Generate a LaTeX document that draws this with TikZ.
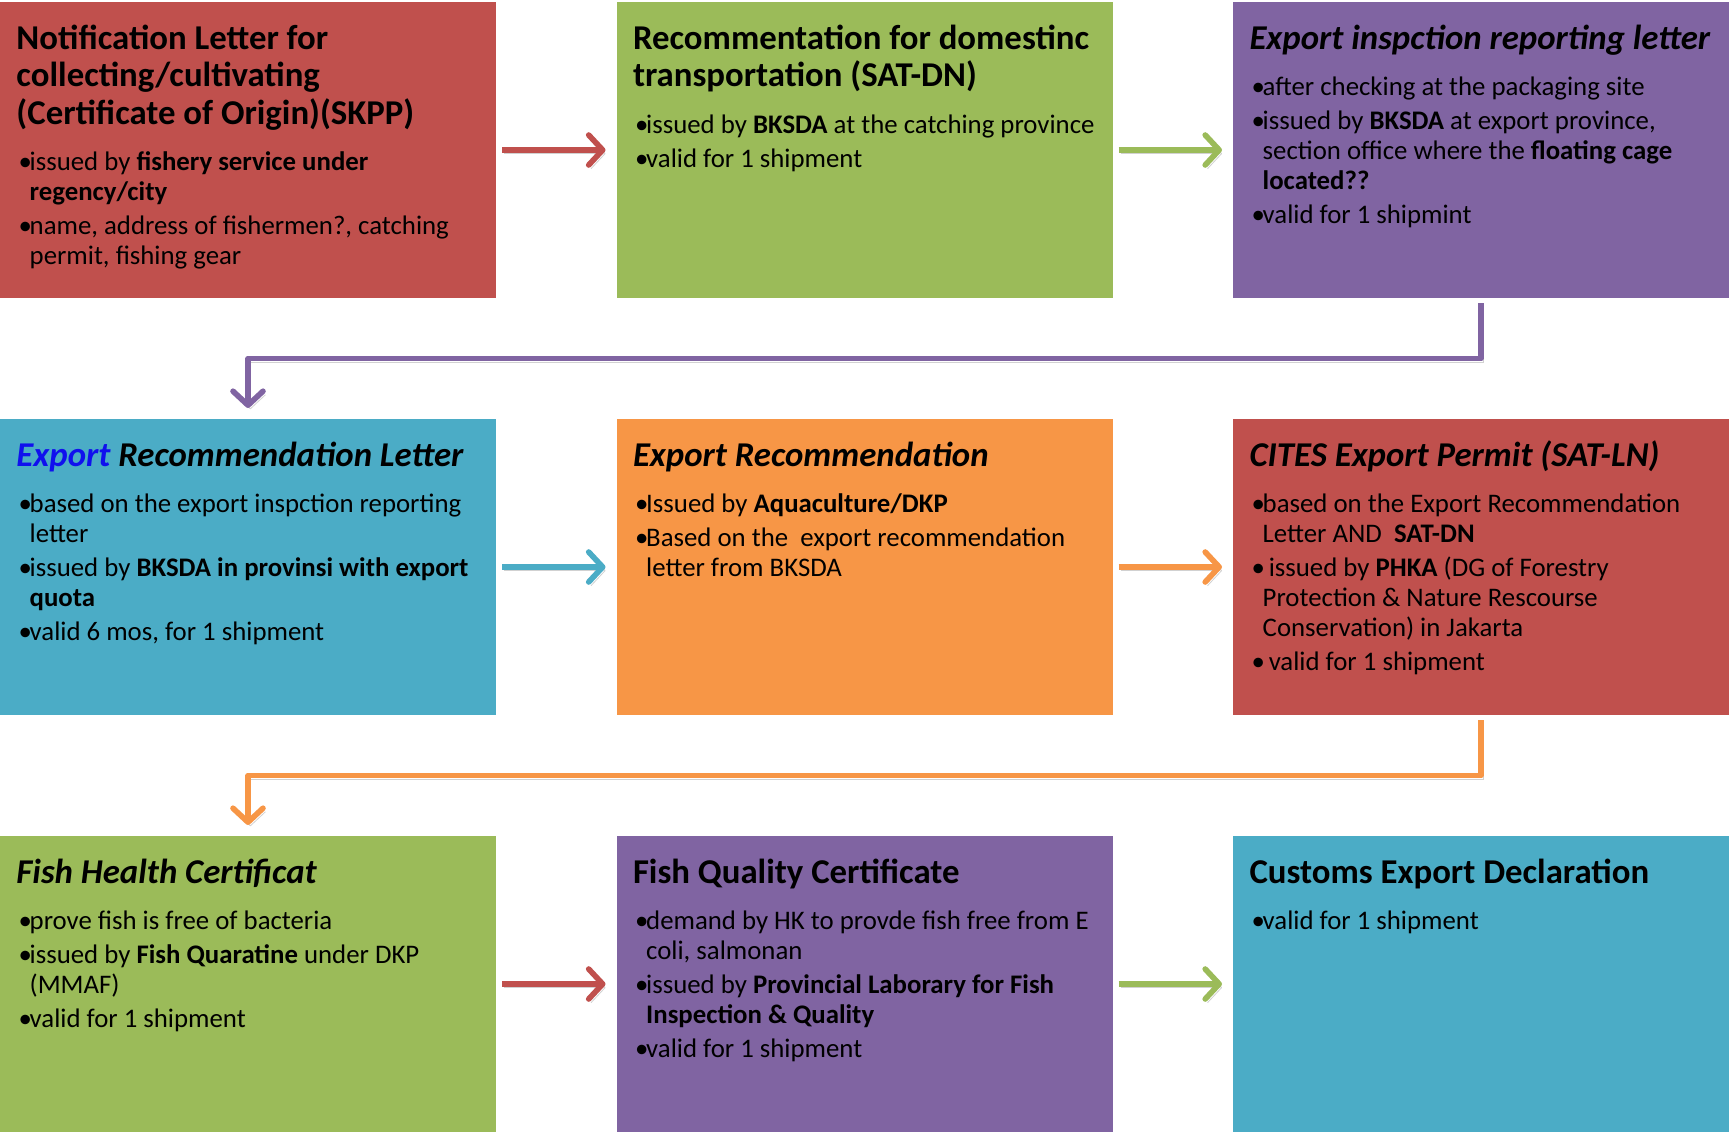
\documentclass[tikz,border=0pt]{standalone}
\usepackage{fontspec}
\setmainfont{Carlito}
\usepackage{xcolor}
\usepackage{tikz}
\usetikzlibrary{arrows.meta,positioning,calc}
\definecolor{cardred}{HTML}{C0504D}
\definecolor{cardgreen}{HTML}{9BBB59}
\definecolor{cardpurple}{HTML}{8064A2}
\definecolor{cardaqua}{HTML}{4BACC6}
\definecolor{cardorange}{HTML}{F79646}
\definecolor{xblue}{HTML}{1010EE}
% one card: bold title, then the bullet list, top aligned
\newcommand{\cardtext}[2]{%
  \parbox[c][148pt][t]{248pt}{%
    \leftskip=8.25pt\rightskip=-20pt plus 1fil\parfillskip=0pt plus 1fil
    \parindent=0pt
    \fontsize{17.4}{18.75}\selectfont\bfseries
    \rule{0pt}{23.6pt}#1\par
    \vspace{6.1pt}%
    \fontsize{13.4}{14.9}\selectfont\mdseries\upshape\parskip=2.2pt
    #2\par}}
\newcommand{\itm}[1]{\par\hangindent=6.6pt\hangafter=1
  \makebox[6.6pt][l]{\hspace{1.1pt}\textbullet}#1}
\tikzset{
  card/.style={rectangle,inner sep=0pt,outer sep=0pt,
    minimum width=248pt,minimum height=148pt},
  flow/.style={-{Straight Barb[length=7pt,width=15pt,round]},line width=2.8pt,
    line join=round,
    preaction={draw=black,opacity=0.18,transform canvas={shift={(1.2pt,-1.8pt)}}}},
  flowr/.style={flow,draw=cardred},
  flowg/.style={flow,draw=cardgreen},
  flowp/.style={flow,draw=cardpurple},
  flowa/.style={flow,draw=cardaqua},
  flowo/.style={flow,draw=cardorange},
}
\begin{document}
\begin{tikzpicture}
  \useasboundingbox (0,0) rectangle (864.5pt,-566pt);
  % --- first row ---
  \node[card,fill=cardred,anchor=north west] (skpp) at (0,-1pt) {\cardtext
    {Notification Letter for\\collecting/cultivating\\(Certificate of Origin)(SKPP)}
    {\itm{issued by \textbf{fishery service under\\regency/city}}
     \itm{name, address of fishermen?, catching\\permit, fishing gear}}};
  \node[card,fill=cardgreen,right=60.25pt of skpp] (satdn) {\cardtext
    {Recommentation for domestinc\\transportation (SAT-DN)}
    {\itm{issued by \textbf{BKSDA} at the catching province}
     \itm{valid for 1 shipment}}};
  \node[card,fill=cardpurple,right=60.25pt of satdn] (insp) {\cardtext
    {\itshape Export inspction reporting letter}
    {\itm{after checking at the packaging site}
     \itm{issued by \textbf{BKSDA} at export province,\\section office where the \textbf{floating cage\\located??}}
     \itm{valid for 1 shipmint}}};
  % --- second row ---
  \node[card,fill=cardaqua,below=60.5pt of skpp] (erl) {\cardtext
    {\itshape\textcolor{xblue}{Export} Recommendation Letter}
    {\itm{based on the export inspction reporting\\letter}
     \itm{issued by \textbf{BKSDA in provinsi with export\\quota}}
     \itm{valid 6 mos, for 1 shipment}}};
  \node[card,fill=cardorange,right=60.25pt of erl] (exrec) {\cardtext
    {\itshape Export Recommendation}
    {\itm{Issued by \textbf{Aquaculture/DKP}}
     \itm{Based on the\ \ export recommendation\\letter from BKSDA}}};
  \node[card,fill=cardred,right=60.25pt of exrec] (satln) {\cardtext
    {\itshape CITES Export Permit (SAT-LN)}
    {\itm{based on the Export Recommendation\\Letter AND\ \ \textbf{SAT-DN}}
     \itm{\ issued by \textbf{PHKA} (DG of Forestry\\Protection \& Nature Rescourse\\Conservation) in Jakarta}
     \itm{\ valid for 1 shipment}}};
  % --- third row ---
  \node[card,fill=cardgreen,below=60.5pt of erl] (health) {\cardtext
    {\itshape Fish Health Certificat}
    {\itm{prove fish is free of bacteria}
     \itm{issued by \textbf{Fish Quaratine} under DKP\\(MMAF)}
     \itm{valid for 1 shipment}}};
  \node[card,fill=cardpurple,right=60.25pt of health] (quality) {\cardtext
    {Fish Quality Certificate}
    {\itm{demand by HK to provde fish free from E\\coli, salmonan}
     \itm{issued by \textbf{Provincial Laborary for Fish\\Inspection \& Quality}}
     \itm{valid for 1 shipment}}};
  \node[card,fill=cardaqua,right=60.25pt of quality] (customs) {\cardtext
    {Customs Export Declaration}
    {\itm{valid for 1 shipment}}};

  % arrows along the rows
  \draw[flowr] ([xshift=3pt]skpp.east) -- ([xshift=-5.5pt]satdn.west);
  \draw[flowg] ([xshift=3pt]satdn.east) -- ([xshift=-5.5pt]insp.west);
  \draw[flowa] ([xshift=3pt]erl.east) -- ([xshift=-5.5pt]exrec.west);
  \draw[flowo] ([xshift=3pt]exrec.east) -- ([xshift=-5.5pt]satln.west);
  \draw[flowr] ([xshift=3pt]health.east) -- ([xshift=-5.5pt]quality.west);
  \draw[flowg] ([xshift=3pt]quality.east) -- ([xshift=-5.5pt]customs.west);
  % elbows back to the start of the next row
  \draw[flowp] ([yshift=-2.5pt]insp.south) -- ++(0,-27.75pt) -| ([yshift=5.5pt]erl.north);
  \draw[flowo] ([yshift=-2.5pt]satln.south) -- ++(0,-27.75pt) -| ([yshift=5.5pt]health.north);
\end{tikzpicture}
\end{document}
